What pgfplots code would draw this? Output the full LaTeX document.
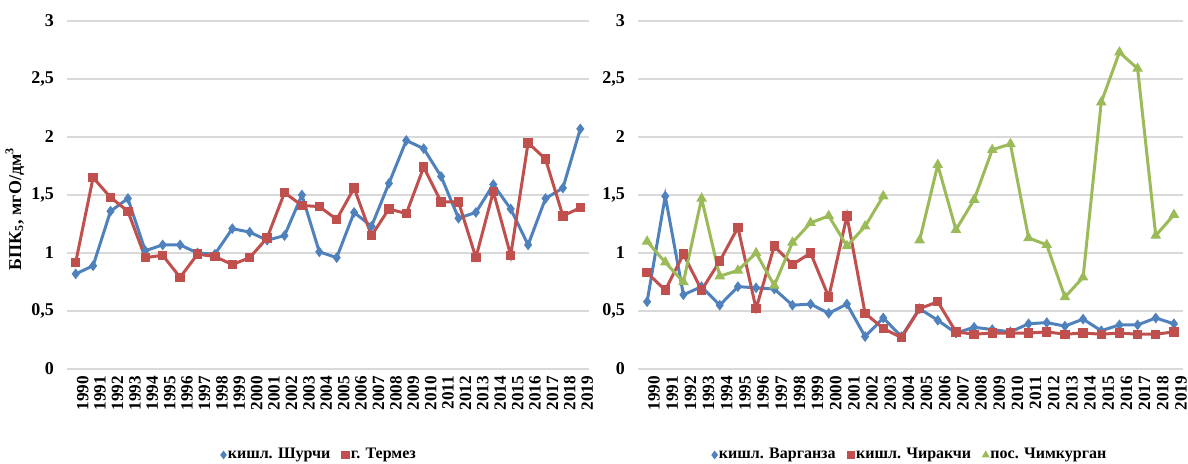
\documentclass[border=0pt]{standalone}
\usepackage{pgfplots}
\pgfplotsset{compat=1.18}
\usepackage{pgfplotstable}
\usepackage{fontspec}
\setmainfont{Liberation Serif}

\definecolor{xlblue}{HTML}{4F81BD}
\definecolor{xlred}{HTML}{C0504D}
\definecolor{xlgreen}{HTML}{9BBB59}
\definecolor{xlgrid}{HTML}{D9D9D9}

% BOD5 by year, mg O/dm3
\pgfplotstableread{
year shurchi termez varganza chirakchi chimkurgan
1990 0.82 0.92 0.58 0.83 1.10
1991 0.89 1.65 1.49 0.68 0.92
1992 1.36 1.48 0.64 0.99 0.75
1993 1.47 1.36 0.71 0.68 1.47
1994 1.02 0.96 0.55 0.93 0.80
1995 1.07 0.98 0.71 1.22 0.85
1996 1.07 0.79 0.70 0.52 1.00
1997 1.00 0.99 0.69 1.06 0.72
1998 0.99 0.97 0.55 0.90 1.09
1999 1.21 0.90 0.56 1.00 1.26
2000 1.18 0.96 0.48 0.62 1.32
2001 1.11 1.13 0.56 1.32 1.06
2002 1.15 1.52 0.28 0.48 1.23
2003 1.50 1.41 0.44 0.35 1.49
2004 1.01 1.40 0.28 0.27 nan
2005 0.96 1.29 0.52 0.52 1.11
2006 1.35 1.56 0.42 0.58 1.76
2007 1.23 1.15 0.31 0.32 1.20
2008 1.60 1.38 0.36 0.30 1.46
2009 1.97 1.34 0.34 0.31 1.89
2010 1.90 1.74 0.32 0.31 1.94
2011 1.66 1.44 0.39 0.31 1.13
2012 1.30 1.44 0.40 0.32 1.07
2013 1.35 0.96 0.37 0.30 0.62
2014 1.59 1.53 0.43 0.31 0.79
2015 1.38 0.98 0.33 0.30 2.30
2016 1.07 1.95 0.38 0.31 2.73
2017 1.47 1.81 0.38 0.30 2.59
2018 1.56 1.32 0.44 0.30 1.15
2019 2.07 1.39 0.39 0.32 1.33
}\bod

\pgfplotsset{
  xlchart/.style={
    scale only axis, anchor=south west,
    height=174pt,
    xmin=1989.5, xmax=2019.5, ymin=0, ymax=3,
    xtick={1990,...,2019},
    xticklabels={1990,1991,1992,1993,1994,1995,1996,1997,1998,1999,2000,2001,2002,2003,2004,2005,2006,2007,2008,2009,2010,2011,2012,2013,2014,2015,2016,2017,2018,2019},
    ytick={0,0.5,1,1.5,2,2.5,3},
    yticklabels={0,{0,5},1,{1,5},2,{2,5},3},
    major tick length=0pt,
    axis line style={draw=none},
    ymajorgrids, major grid style={xlgrid, line width=0.8pt},
    tick label style={font=\bfseries\fontsize{9}{10}\selectfont},
    x tick label style={font=\bfseries\fontsize{8.6}{9}\selectfont, rotate=90, anchor=east, yshift=-3.5pt},
    y tick label style={xshift=-3pt},
    unbounded coords=jump,
    legend columns=-1,
    legend style={draw=none, fill=none, anchor=center,
      font=\bfseries\fontsize{8}{9}\selectfont,
      nodes={inner sep=0.8pt},
      /tikz/every even column/.append style={column sep=5pt},
      inner sep=0pt},
    legend image code/.code={\draw[#1,only marks,mark size=1.8pt] plot coordinates {(0cm,0cm)};},
  },
  s1/.style={xlblue, line width=1.5pt, mark=diamond*, mark size=2.3pt, mark options={solid, line width=0.5pt}},
  s2/.style={xlred, line width=1.5pt, mark=square*, mark size=2.1pt, mark options={solid, line width=0.5pt}},
  s3/.style={xlgreen, line width=1.5pt, mark=triangle*, mark size=2.6pt, mark options={solid, line width=0.5pt}},
}

\begin{document}
\begin{tikzpicture}
\useasboundingbox (0pt,0pt) rectangle (594pt,231.5pt);

\begin{axis}[xlchart, at={(33.5pt,47pt)}, width=261pt,
  ylabel={БПК\textsubscript{5}, мгО/дм\textsuperscript{3}},
  ylabel style={font=\bfseries\fontsize{9}{10}\selectfont, at={(axis description cs:-0.1,0.46)}, anchor=center, rotate=0},
  legend style={at={(axis description cs:0.483,-0.247)}}]
\addplot[s1] table[x=year, y=shurchi] {\bod};
\addlegendentry{кишл. Шурчи}
\addplot[s2] table[x=year, y=termez] {\bod};
\addlegendentry{г. Термез}
\end{axis}

\begin{axis}[xlchart, at={(319pt,47pt)}, width=272.5pt,
  legend style={at={(axis description cs:0.499,-0.247)}}]
\addplot[s1] table[x=year, y=varganza] {\bod};
\addlegendentry{кишл. Варганза}
\addplot[s2] table[x=year, y=chirakchi] {\bod};
\addlegendentry{кишл. Чиракчи}
\addplot[s3] table[x=year, y=chimkurgan] {\bod};
\addlegendentry{пос. Чимкурган}
\end{axis}
\end{tikzpicture}
\end{document}
